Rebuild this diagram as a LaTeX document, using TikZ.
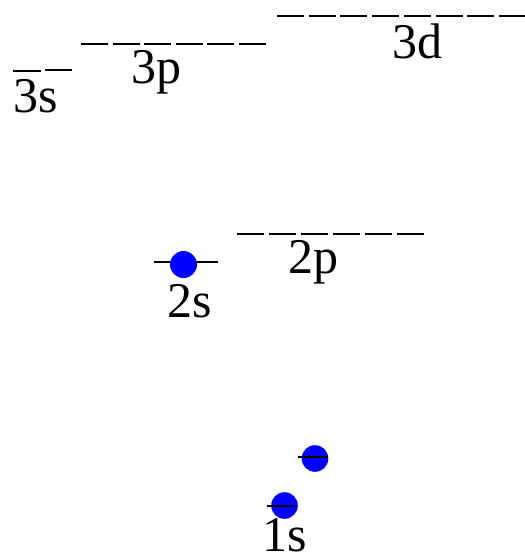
\documentclass[tikz,border=0pt]{standalone}
\usepackage{fontspec}
\setmainfont{Liberation Serif}
\begin{document}
\begin{tikzpicture}[x=1pt,y=-1pt,
  lvl/.style={line width=2pt},
  elec/.style={fill=blue,draw=none},
  lbl/.style={anchor=base,inner sep=0pt,font=\fontsize{50}{50}\selectfont}]
\useasboundingbox (0,0) rectangle (525,558);
% 3s
\draw[lvl] (13,71) -- (41,71);
\draw[lvl] (45,70) -- (72,70);
\node[lbl] (l3s) at (35.5,112) {3s};
% 3p
\foreach \i in {0,...,5} \draw[lvl] ({81+\i*31.6},44) -- ++(27,0);
\node[lbl] (l3p) at (156,83) {3p};
% 3d
\foreach \i in {0,...,7} \draw[lvl] ({277+\i*31.7},16) -- ++(27,0);
\node[lbl] (l3d) at (417,58) {3d};
% 2p
\foreach \i in {0,...,5} \draw[lvl] ({237+\i*32},234) -- ++(27,0);
\node[lbl] (l2p) at (313,273) {2p};
% 2s
\draw[lvl] (154,262) -- (218,262);
\fill[elec] (183.5,264.5) circle (13.5);
\node[lbl] (l2s) at (190,317) {2s};
% 1s
\fill[elec] (315,458.5) circle (13.3);
\draw[lvl] (298,457) -- (328,457);
\fill[elec] (284.5,505.5) circle (13.3);
\draw[lvl] (267,506) -- (295,506);
\node[lbl] (l1s) at (285,551) {1s};
\end{tikzpicture}
\end{document}
